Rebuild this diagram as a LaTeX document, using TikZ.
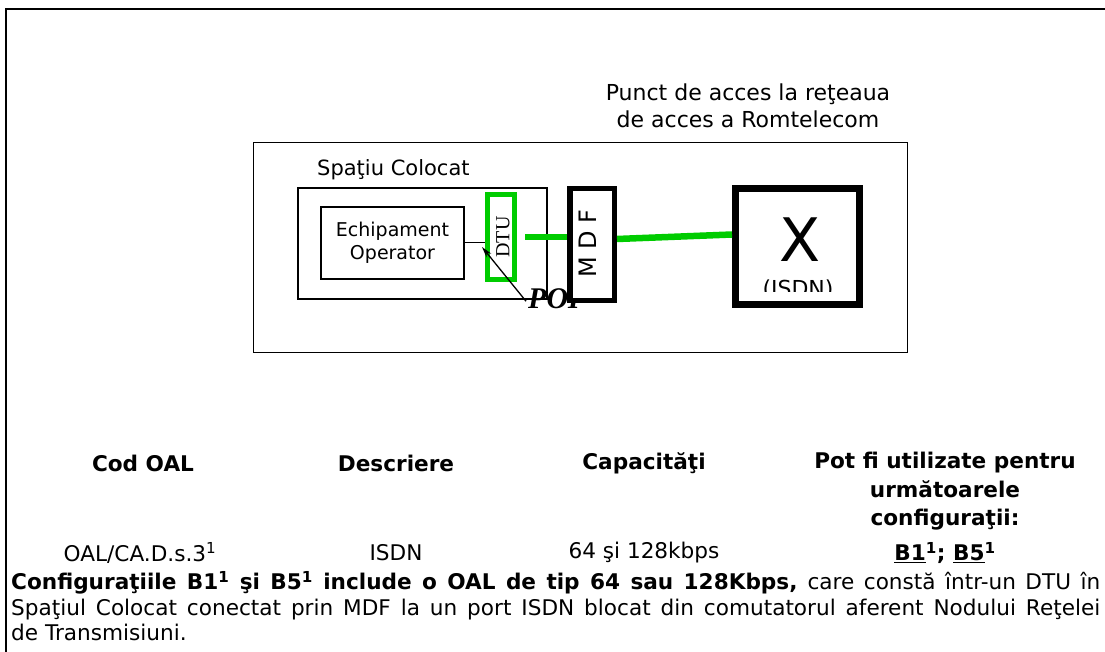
\documentclass[tikz,border=0pt]{standalone}
\usepackage{fontspec}
\usetikzlibrary{arrows.meta}
\setmainfont{DejaVu Sans}
\newfontfamily\bodyfont{DejaVu Sans}
\newfontfamily\poifont{Liberation Serif}
\definecolor{linkgreen}{RGB}{0,204,0}

\begin{document}
\begin{tikzpicture}[x=1pt, y=-1pt, >={Stealth[length=11pt,width=6pt]},
    box/.style={draw, line width=1.2pt, inner sep=0pt},
    thickbox/.style={draw, fill=white, line width=5.5pt, inner sep=0pt},
    greenlink/.style={draw=linkgreen, line width=6.5pt},
    lbl/.style={font=\fontsize{21}{26}\selectfont, inner sep=0pt},
    cell/.style={font=\bodyfont\fontsize{21.6}{28.5}\selectfont, align=center, inner sep=0pt},
    headcell/.style={font=\bodyfont\bfseries\fontsize{21.6}{28.5}\selectfont, align=center, inner sep=0pt}]
    \useasboundingbox (0,0) rectangle (1105,652);
    \draw[line width=2.5pt] (6,652) -- (6,9) -- (1105,9);

    \node[box, line width=1pt, minimum width=654pt, minimum height=209pt] (rtc) at (580,247.5) {};
    \node[lbl, align=center, font=\fontsize{22}{27}\selectfont] (rtclabel) at (748,105.5) {Punct de acces la reţeaua\\de acces a Romtelecom};

    \node[box, minimum width=249pt, minimum height=111pt] (colocat) at (422.5,243.5) {};
    \node[lbl, anchor=base west] (colocatlabel) at (317,176) {Spaţiu Colocat};
    \node[box, minimum width=143pt, minimum height=72pt] (echip) at (392.5,243) {};
    \node[lbl, align=center, font=\fontsize{19}{23}\selectfont] (echiplabel) at (echip) {Echipament\\Operator};

    \node[draw=linkgreen, line width=5pt, minimum width=27pt, minimum height=85pt, inner sep=0pt] (dtu) at (501,237) {};
    \node[rotate=90, inner sep=0pt, font=\poifont\fontsize{20}{20}\selectfont] (dtulabel) at (503,237) {DTU};

    \node[font=\poifont\bfseries\itshape\fontsize{30}{30}\selectfont, anchor=base west, inner sep=0pt] (poi) at (528,308) {POI};
    \coordinate (poitip) at (482,247);
    \draw[->, line width=1.3pt] ([xshift=-2pt,yshift=-3pt]poi.west) -- (poitip);

    \node[thickbox, minimum width=44.5pt, minimum height=111.5pt] (mdf) at (592,244.5) {};
    \node[rotate=90, inner sep=0pt, font=\fontsize{24}{24}\selectfont] (mdflabel) at (588,243.5) {M D F};

    \node[thickbox, line width=7pt, minimum width=124pt, minimum height=116pt] (xbox) at (797.5,246.5) {};
    \node[inner sep=0pt, font=\fontsize{60}{60}\selectfont] (xsign) at (800,240) {X};
    \begin{scope}
        \clip (740,270) rectangle (855,291);
        \node[anchor=north, inner sep=0pt, font=\fontsize{22}{22}\selectfont] (isdn) at (798,280) {(ISDN)};
    \end{scope}

    \draw[line width=1pt] (echip.east) -- (echip.east -| dtu.west);
    \draw[greenlink] ([xshift=8pt]dtu.east) -- (dtu.east -| mdf.west);
    \draw[greenlink] ([yshift=5.5pt]mdf.east) -- ([yshift=12pt]xbox.west);

    \node[headcell] (hcod) at (143,463) {Cod OAL};
    \node[headcell] (hdesc) at (396,463) {Descriere};
    \node[headcell] (hcap) at (644,463) {Capacităţi};
    \node[headcell] (hpot) at (945,491.5) {Pot fi utilizate pentru\\următoarele\\configuraţii:};

    \node[cell] (cod) at (140,553) {OAL/CA.D.s.3\textsuperscript{1}};
    \node[cell] (desc) at (396,553) {ISDN};
    \node[cell] (cap) at (644,553) {64 şi 128kbps};
    \node[headcell] (cfg) at (945,553) {\underline{B1}\textsuperscript{1}; \underline{B5}\textsuperscript{1}};

    \node[cell, align=justify, text width=1089pt, anchor=north west, font=\bodyfont\fontsize{21.6}{25.5}\selectfont] (body) at (11,571)
        {\hyphenpenalty=10000\relax
        \textbf{Configuraţiile B1\textsuperscript{1} şi B5\textsuperscript{1} include o OAL de tip 64 sau 128Kbps,} care constă într-un DTU în\linebreak
        Spaţiul Colocat conectat prin MDF la un port ISDN blocat din comutatorul aferent Nodului Reţelei\linebreak
        de Transmisiuni.};
\end{tikzpicture}
\end{document}
